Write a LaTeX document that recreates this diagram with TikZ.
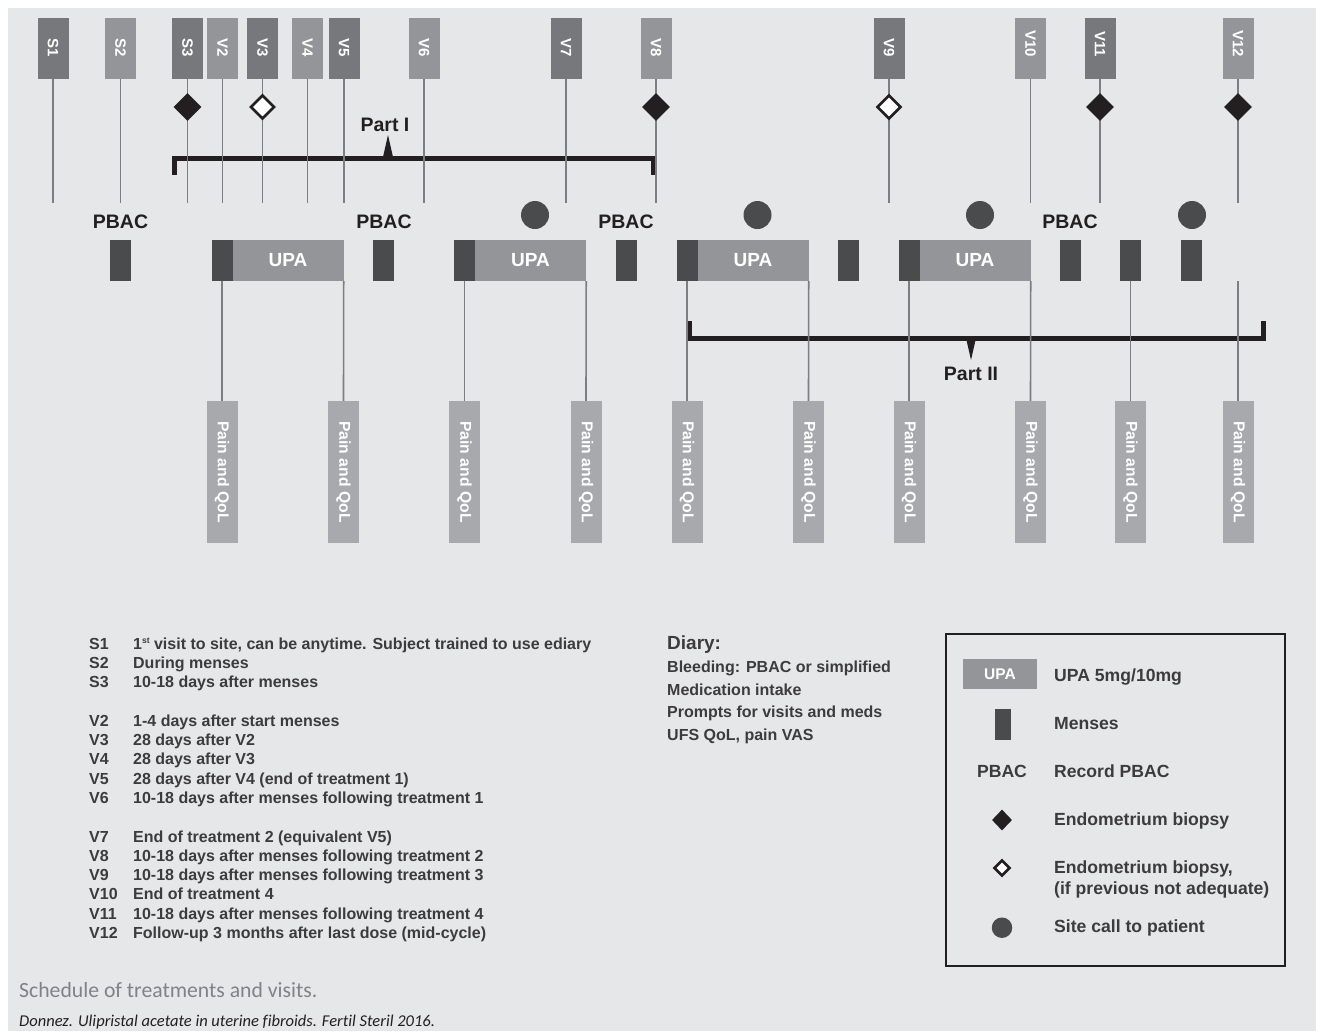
\documentclass[tikz,border=0pt]{standalone}
\usepackage{fontspec}
\setmainfont{Liberation Sans}
\newfontfamily\capfont[Ligatures=CommonOff]{Carlito}
\usetikzlibrary{shapes.geometric}
\definecolor{bg}{HTML}{E6E7E8}
\definecolor{visdark}{HTML}{77787B}
\definecolor{vislight}{HTML}{939598}
\definecolor{mensdark}{HTML}{4A4B4D}
\definecolor{painbox}{HTML}{A7A9AC}
\definecolor{linegrey}{HTML}{7D7E81}
\definecolor{txt}{HTML}{3C3C3E}
\definecolor{ink}{HTML}{231F20}
\definecolor{capgrey}{HTML}{808285}
\newcommand\vlab[1]{\makebox[17pt][r]{#1}}
\newcommand\supst{\raisebox{5.5pt}{\fontsize{8.5}{9}\selectfont st}}

\begin{document}
\begin{tikzpicture}[x=1pt,y=-1pt,
	visd/.style={rectangle,fill=visdark,text=white,font=\fontsize{15}{18}\selectfont\bfseries,rotate=-90,minimum width=61,minimum height=31,inner sep=0},
	visl/.style={visd,fill=vislight},
	menses/.style={rectangle,fill=mensdark,minimum width=21,minimum height=41,inner sep=0},
	upa/.style={rectangle,fill=vislight,text=white,font=\fontsize{19}{22}\selectfont\bfseries,minimum width=111,minimum height=41,inner sep=0},
	pain/.style={rectangle,fill=painbox,text=white,font=\fontsize{15.7}{18}\selectfont\bfseries,rotate=-90,minimum width=142,minimum height=31,inner sep=0},
	biopsy/.style={diamond,fill=ink,minimum width=28,minimum height=28,inner sep=0},
	rebiopsy/.style={diamond,fill=white,draw=ink,line width=2.6,minimum width=24,minimum height=24,inner sep=0},
	call/.style={circle,fill=mensdark,minimum size=28,inner sep=0},
	pbac/.style={text=ink,font=\fontsize{19.5}{22}\selectfont\bfseries,inner sep=0},
	list/.style={text=txt,font=\fontsize{16}{19.3}\selectfont\bfseries,inner sep=0,anchor=base west},
	key/.style={text=txt,font=\fontsize{17.6}{21}\selectfont\bfseries,inner sep=0,anchor=base west},
	vline/.style={linegrey,line width=1.6},
	bracket/.style={ink,line width=5}]
	\useasboundingbox (0,0) rectangle (1321,1031);
	\fill[white] (0,0) rectangle (1321,1031);
	\fill[bg] (8,8) rectangle (1316,1031);

	\node[visd] (S1) at (53,48.5) {\vlab{S1}};
	\node[visl] (S2) at (120.5,48.5) {\vlab{S2}};
	\node[visd] (S3) at (187.5,48.5) {\vlab{S3}};
	\node[visl] (V2) at (222.5,48.5) {\vlab{V2}};
	\node[visd] (V3) at (262.5,48.5) {\vlab{V3}};
	\node[visl] (V4) at (307.5,48.5) {\vlab{V4}};
	\node[visd] (V5) at (344,48.5) {\vlab{V5}};
	\node[visl] (V6) at (424,48.5) {\vlab{V6}};
	\node[visd] (V7) at (566,48.5) {\vlab{V7}};
	\node[visl] (V8) at (656,48.5) {\vlab{V8}};
	\node[visd] (V9) at (889,48.5) {\vlab{V9}};
	\node[visl] (V10) at (1030.5,48.5) {\vlab{V10}};
	\node[visd] (V11) at (1100,48.5) {\vlab{V11}};
	\node[visl] (V12) at (1238,48.5) {\vlab{V12}};
	\coordinate (vend) at (0,203);

	\draw[bracket] (174.5,175) -- (174.5,158) -- (653.5,158) -- (653.5,175);
	\fill[ink] (383,157) -- (388,135) -- (393,157) -- cycle;
	\node[pbac] (part1) at (385,125) {Part I};
	\draw[bracket] (689,321) -- (689,338.5) -- (1263,338.5) -- (1263,321);
	\fill[ink] (966,338) -- (971,360) -- (976,338) -- cycle;
	\node[pbac] (part2) at (971,374) {Part II};

	\draw[vline] (S1.east) -- (S1.east |- vend);
	\draw[vline] (S2.east) -- (S2.east |- vend);
	\draw[vline] (S3.east) -- (S3.east |- vend);
	\draw[vline] (V2.east) -- (V2.east |- vend);
	\draw[vline] (V3.east) -- (V3.east |- vend);
	\draw[vline] (V4.east) -- (V4.east |- vend);
	\draw[vline] (V5.east) -- (V5.east |- vend);
	\draw[vline] (V6.east) -- (V6.east |- vend);
	\draw[vline] (V7.east) -- (V7.east |- vend);
	\draw[vline] (V8.east) -- (V8.east |- vend);
	\draw[vline] (V9.east) -- (V9.east |- vend);
	\draw[vline] (V10.east) -- (V10.east |- vend);
	\draw[vline] (V11.east) -- (V11.east |- vend);
	\draw[vline] (V12.east) -- (V12.east |- vend);

	\node[biopsy] (bS3) at (187.5,107) {};
	\node[rebiopsy] (bV3) at (262.5,107) {};
	\node[biopsy] (bV8) at (656,107) {};
	\node[rebiopsy] (bV9) at (889,107) {};
	\node[biopsy] (bV11) at (1100,107) {};
	\node[biopsy] (bV12) at (1238,107) {};

	\node[pbac] (pb1) at (120.5,222) {PBAC};
	\node[pbac] (pb2) at (384,222) {PBAC};
	\node[pbac] (pb3) at (626,222) {PBAC};
	\node[pbac] (pb4) at (1070,222) {PBAC};
	\node[call] (c1) at (535,215) {};
	\node[call] (c2) at (757.5,215) {};
	\node[call] (c3) at (980,215) {};
	\node[call] (c4) at (1192,215) {};

	\node[menses] (m1) at (120.5,260.5) {};
	\node[menses] (m2) at (222,260.5) {};
	\node[upa] (u1) at (288,260.5) {UPA};
	\node[menses] (m3) at (383.5,260.5) {};
	\node[menses] (m4) at (464.5,260.5) {};
	\node[upa] (u2) at (530.5,260.5) {UPA};
	\node[menses] (m5) at (626.5,260.5) {};
	\node[menses] (m6) at (687,260.5) {};
	\node[upa] (u3) at (753,260.5) {UPA};
	\node[menses] (m7) at (848.5,260.5) {};
	\node[menses] (m8) at (909,260.5) {};
	\node[upa] (u4) at (975,260.5) {UPA};
	\node[menses] (m9) at (1070.5,260.5) {};
	\node[menses] (m10) at (1130.5,260.5) {};
	\node[menses] (m11) at (1191.5,260.5) {};
	\coordinate (fu) at (1238,281);

	\node[pain] (q1) at (222,472) {Pain and QoL};
	\node[pain] (q2) at (343.5,472) {Pain and QoL};
	\node[pain] (q3) at (464.5,472) {Pain and QoL};
	\node[pain] (q4) at (586,472) {Pain and QoL};
	\node[pain] (q5) at (687,472) {Pain and QoL};
	\node[pain] (q6) at (808.5,472) {Pain and QoL};
	\node[pain] (q7) at (909,472) {Pain and QoL};
	\node[pain] (q8) at (1030.5,472) {Pain and QoL};
	\node[pain] (q9) at (1130.5,472) {Pain and QoL};
	\node[pain] (q10) at (1238,472) {Pain and QoL};
	\draw[vline] (m2.south) -- (q1.west);
	\draw[vline] (u1.south east) -- (q2.west);
	\draw[vline] (m4.south) -- (q3.west);
	\draw[vline] (u2.south east) -- (q4.west);
	\draw[vline] (m6.south) -- (q5.west);
	\draw[vline] (u3.south east) -- (q6.west);
	\draw[vline] (m8.south) -- (q7.west);
	\draw[vline] (u4.south east) -- (q8.west);
	\draw[vline] (m10.south) -- (q9.west);
	\draw[vline] (fu) -- (q10.west);

	\node[list] (visits) at (89,649) {\begin{tabular}[t]{@{}p{44pt}@{}l@{}}
		S1 & 1\supst{} visit to site, can be anytime. Subject trained to use ediary\\
		S2 & During menses\\
		S3 & 10-18 days after menses\\
		& \\
		V2 & 1-4 days after start menses\\
		V3 & 28 days after V2\\
		V4 & 28 days after V3\\
		V5 & 28 days after V4 (end of treatment 1)\\
		V6 & 10-18 days after menses following treatment 1\\
		& \\
		V7 & End of treatment 2 (equivalent V5)\\
		V8 & 10-18 days after menses following treatment 2\\
		V9 & 10-18 days after menses following treatment 3\\
		V10 & End of treatment 4\\
		V11 & 10-18 days after menses following treatment 4\\
		V12 & Follow-up 3 months after last dose (mid-cycle)
	\end{tabular}};

	\node[list,font=\fontsize{19}{22}\selectfont\bfseries] (diary) at (667,649.5) {Diary:};
	\node[list,font=\fontsize{16}{22.7}\selectfont\bfseries] (diarylist) at (667,672.4) {\begin{tabular}[t]{@{}l@{}}
		Bleeding: PBAC or simplified\\
		Medication intake\\
		Prompts for visits and meds\\
		UFS QoL, pain VAS
	\end{tabular}};

	\draw[ink,line width=2] (946,634) rectangle (1285,966);
	\node[upa,minimum width=74,minimum height=30,font=\fontsize{15.5}{18}\selectfont\bfseries] (kupa) at (1000,674) {UPA};
	\node[menses,minimum width=16,minimum height=31] (kmen) at (1002.5,724.3) {};
	\node[key,anchor=base] (kpbac) at (1002,777.3) {PBAC};
	\node[biopsy,minimum width=20,minimum height=21] (kbio) at (1002,820) {};
	\node[rebiopsy,minimum width=16,minimum height=16] (krebio) at (1002,868) {};
	\node[call,minimum size=20.5] (kcall) at (1002,927.7) {};
	\node[key] (lupa) at (1054,681) {UPA 5mg/10mg};
	\node[key] (lmen) at (1054,729) {Menses};
	\node[key] (lpbac) at (1054,777) {Record PBAC};
	\node[key] (lbio) at (1054,825) {Endometrium biopsy};
	\node[key] (lrebio) at (1054,873) {\begin{tabular}[t]{@{}l@{}}Endometrium biopsy,\\(if previous not adequate)\end{tabular}};
	\node[key] (lcall) at (1054,932) {Site call to patient};

	\node[anchor=base west,inner sep=0,text=capgrey,font=\capfont\fontsize{21.7}{26}\selectfont] (caption) at (19,997) {Schedule of treatments and visits.};
	\node[anchor=base west,inner sep=0,text=ink,font=\capfont\itshape\fontsize{16.5}{20}\selectfont] (source) at (19,1026) {Donnez. Ulipristal acetate in uterine fibroids. Fertil Steril 2016.};
\end{tikzpicture}
\end{document}
